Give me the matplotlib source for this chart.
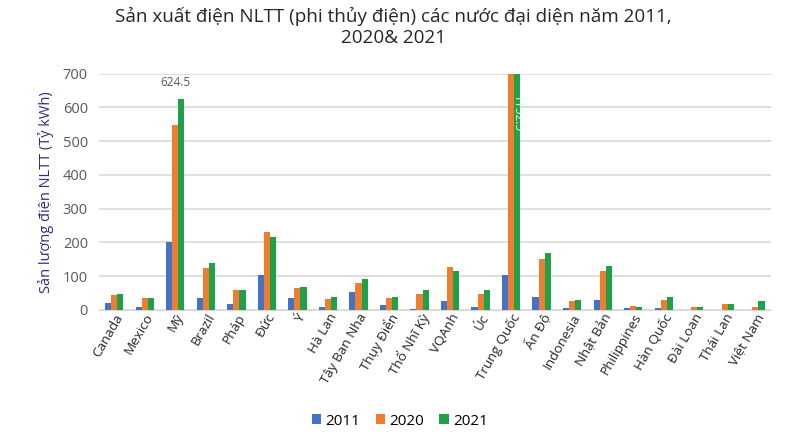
import matplotlib
matplotlib.use("Agg")
import matplotlib.pyplot as plt
import numpy as np

plt.rcParams['font.family'] = ['Open Sans', 'DejaVu Sans']

countries = ["Canada", "Mexico", "Mỹ", "Brazil", "Pháp", "Đức", "Ý", "Hà Lan",
             "Tây Ban Nha", "Thụy Điển", "Thổ Nhĩ Kỳ", "VQAnh", "Úc", "Trung Quốc",
             "Ấn Độ", "Indonesia", "Nhật Bản", "Philippines", "Hàn Quốc", "Đài Loan",
             "Thái Lan", "Việt Nam"]
v2011 = [20, 8, 200, 34, 17, 105, 34, 10, 52, 15, 3, 27, 8, 103, 39, 7, 30, 7, 6, 0, 0, 0]
v2020 = [45, 34, 547, 124, 59, 231, 66, 32, 81, 36, 48, 127, 48, 1000, 150, 27, 115, 12, 30, 8, 18, 10]
v2021 = [47, 36, 624.5, 140, 59, 217, 69, 39, 93, 39, 60, 115, 60, 1152.5, 170, 30, 129, 10, 39, 10, 19, 27]
years = ["2011", "2020", "2021"]
colors = ["#4472C4", "#ED7D31", "#1FA049"]

fig = plt.figure(figsize=(7.92, 4.46), dpi=100)
ax = fig.add_axes([0.125, 0.305, 0.848, 0.53])

x = np.arange(len(countries))
w = 0.2
for i, (vals, lab, c) in enumerate(zip([v2011, v2020, v2021], years, colors)):
    ax.bar(x + (i - 1) * w, vals, w, color=c, label=lab, zorder=3)

ax.set_ylim(0, 700)
ax.set_xlim(-0.5, len(countries) - 0.5)
ax.set_yticks(range(0, 701, 100))
ax.tick_params(axis='y', length=0, labelsize=10.5, colors='#595959', pad=8)
ax.tick_params(axis='x', length=0, labelsize=9.7, colors='#262626', pad=1)
ax.set_xticks(x)
ax.set_xticklabels(countries, rotation=60, ha='right', rotation_mode='anchor')
ax.grid(axis='y', color='#D9D9D9', linewidth=1.2, zorder=0)
for s in ['top', 'right', 'left']:
    ax.spines[s].set_visible(False)
ax.spines['bottom'].set_color('#D9D9D9')

ax.set_ylabel("Sản lượng điện NLTT (Tỷ kWh)", color='#2E2E80', fontsize=10.5, labelpad=6)

# data labels
im = countries.index("Mỹ")
ax.text(im, 655, f"{v2021[im]}", ha='center', va='bottom', fontsize=8.5, color='#595959')
ic = countries.index("Trung Quốc")
ax.text(ic + w, 582, f"{v2021[ic]}", ha='center', va='center', rotation=270,
        fontsize=8.5, color='#EAF6EC', zorder=4)

fig.text(0.497, 0.985, "Sản xuất điện NLTT (phi thủy điện) các nước đại diện năm 2011,\n2020& 2021",
         ha='center', va='top', fontsize=13.6, color='#262626', linespacing=1.25)

ax.legend(loc='center', bbox_to_anchor=(0.448, -0.47), ncol=3, frameon=False,
          fontsize=11, handlelength=0.6, handleheight=0.6, columnspacing=1.0, handletextpad=0.3)

fig.savefig("out.png", dpi=100)
